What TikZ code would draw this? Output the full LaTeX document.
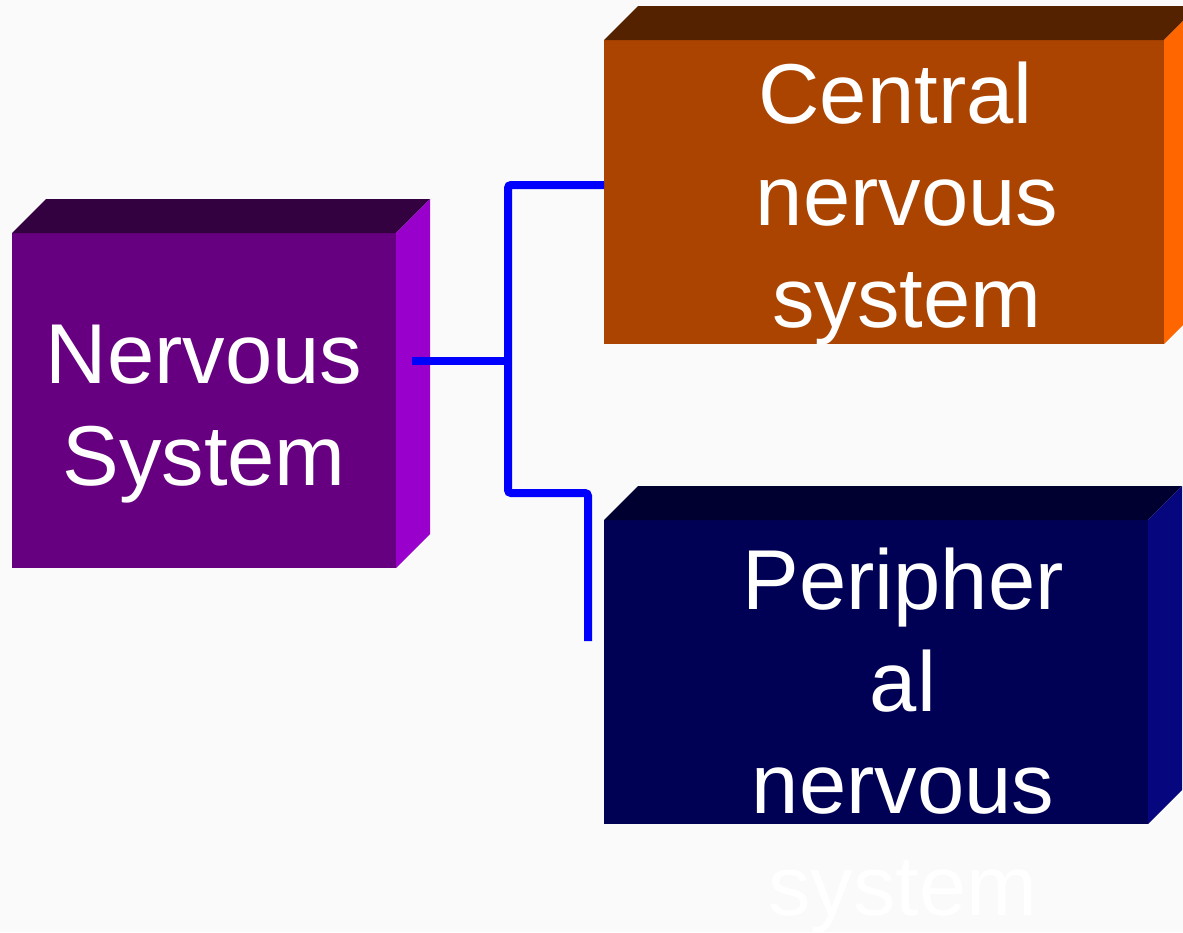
\documentclass[tikz,border=0pt]{standalone}
\usepackage{fontspec}
\setmainfont{Liberation Sans}

\definecolor{paper}{HTML}{FAFAFA}
\definecolor{nsFront}{HTML}{660080}
\definecolor{nsTop}{HTML}{330040}
\definecolor{nsSide}{HTML}{9900CC}
\definecolor{cnsFront}{HTML}{AA4400}
\definecolor{cnsTop}{HTML}{552200}
\definecolor{cnsSide}{HTML}{FF6600}
\definecolor{pnsFront}{HTML}{000055}
\definecolor{pnsTop}{HTML}{000030}
\definecolor{pnsSide}{HTML}{06067F}

\begin{document}
\begin{tikzpicture}[
    x=1pt, y=-1pt,
    font=\fontsize{85}{102}\selectfont,
    face/.style ={inner sep=0pt, outer sep=0pt},
    lbl/.style  ={text=white, align=center, anchor=base, inner sep=0pt},
    link/.style ={draw=blue, line width=8pt, rounded corners=3pt}
  ]

  \path[use as bounding box, fill=paper] (0,0) rectangle (1183,932);
  \clip (0,0) rectangle (1183,932);

  % --- front faces ---------------------------------------------------------
  \node[face, fill=nsFront,  minimum width=384, minimum height=335] (ns)  at (204,400.5) {};
  \node[face, fill=cnsFront, minimum width=560, minimum height=304] (cns) at (884,192) {};
  \node[face, fill=pnsFront, minimum width=544, minimum height=304] (pns) at (876,672) {};

  % --- top and side faces --------------------------------------------------
  \foreach \b/\t/\s in {ns/nsTop/nsSide, cns/cnsTop/cnsSide, pns/pnsTop/pnsSide} {
    \fill[\t] (\b.north west) -- ++(34,-34) -- ([shift={(34,-34)}]\b.north east)
      -- (\b.north east) -- cycle;
    \fill[\s] (\b.north east) -- ++(34,-34) -- ([shift={(34,-34)}]\b.south east)
      -- (\b.south east) -- cycle;
  }

  % --- labels (base = last line) -------------------------------------------
  \node[lbl] (nsTxt)  at (204,485) {Nervous\\System};
  \node[lbl] (cnsTxt) at (907,327) {Central\kern23pt\\nervous\\system};
  \node[lbl] (pnsTxt) at (903,915) {Peripher\\al\\nervous\\system};

  % --- connectors ----------------------------------------------------------
  \coordinate (nsOut)  at (412,361);
  \coordinate (split)  at (508,361);
  \coordinate (knee)   at (508,493);
  \coordinate (pnsEnd) at (588,641);

  \draw[link] (nsOut) -- (split);
  \draw[link] ([yshift=7pt]cns.west) -| (knee) -| (pnsEnd);

\end{tikzpicture}
\end{document}
